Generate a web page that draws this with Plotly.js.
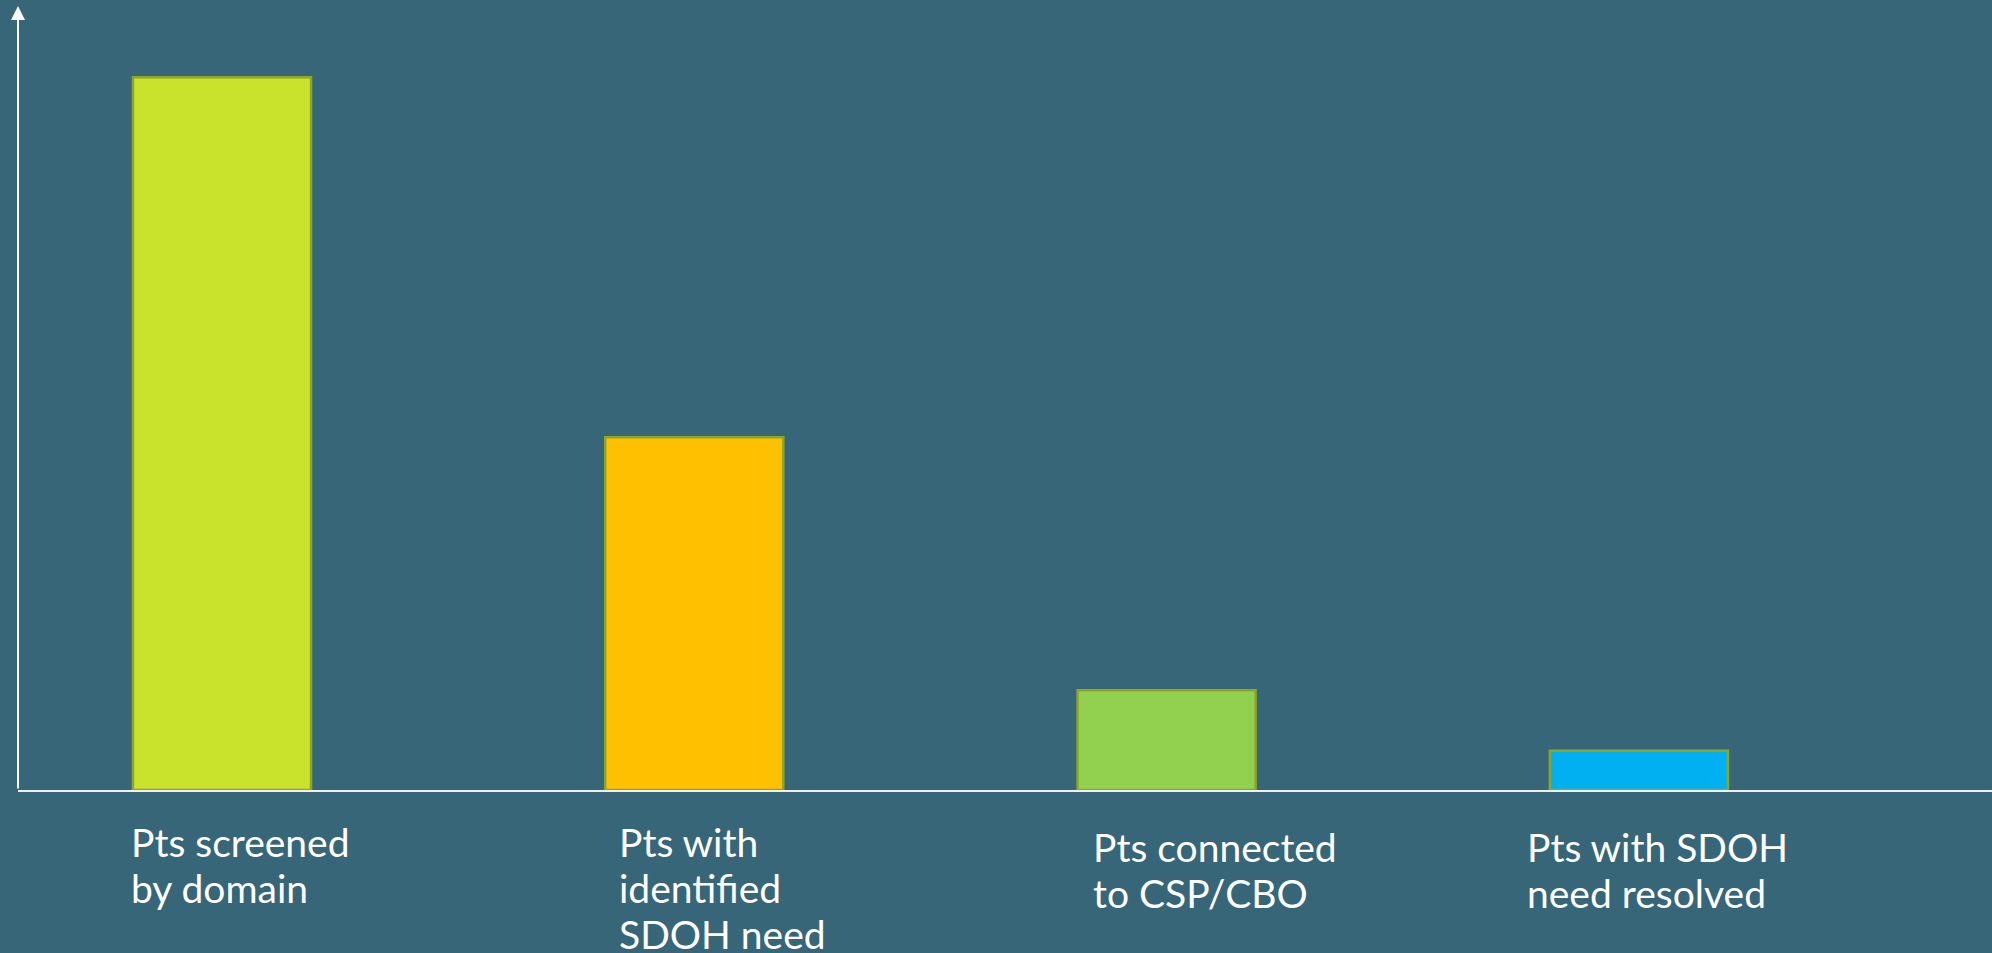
<!DOCTYPE html>
<html>
<head>
<meta charset="utf-8">
<script src="https://cdn.plot.ly/plotly-3.0.1.min.js"></script>
<style>
  html, body { margin: 0; padding: 0; background: #376678; }
  #chart { width: 1992px; height: 953px; }
</style>
</head>
<body>
<div id="chart"></div>
<script>
// ---- data ----
const categories = ["Pts screened by domain", "Pts with identified SDOH need", "Pts connected to CSP/CBO", "Pts with SDOH need resolved"];
const values = [1000, 495, 140, 55];
const labelLines = [
  ["Pts screened", "by domain"],
  ["Pts with", "identified", "SDOH need"],
  ["Pts connected", "to CSP/CBO"],
  ["Pts with SDOH", "need resolved"]
];

// ---- styles ----
const barColors = ["#C9E22B", "#FFC000", "#92D050", "#00B0F0"];
const outline = "#8FA52A";
const bg = "#376678";

const W = 1992, H = 953;
const M = { l: 18, r: 0, t: 6, b: 163 };
const plotW = W - M.l - M.r, plotH = H - M.t - M.b;
const px2paperX = p => (p - M.l) / plotW;
const px2paperY = p => (H - M.b - p) / plotH;

// label placement (pixels): left edge, centre of first line, line step
const labelLeft = [129, 617, 1091, 1525];
const labelFirst = [842, 842, 847, 847];
const lineStep = 46;

const annotations = [];
labelLines.forEach((lines, i) => {
  lines.forEach((t, j) => {
    annotations.push({
      text: t, xref: 'paper', yref: 'paper',
      x: px2paperX(labelLeft[i]), y: px2paperY(labelFirst[i] + j * lineStep),
      xanchor: 'left', yanchor: 'middle', align: 'left', showarrow: false,
      font: { family: 'Lato, sans-serif', size: 39, color: '#ffffff' }
    });
  });
});
// y-axis arrow
annotations.push({
  text: '', xref: 'paper', yref: 'paper', x: 0, y: 1,
  ax: 0, ay: plotH, axref: 'pixel', ayref: 'pixel',
  showarrow: true, arrowhead: 2, arrowsize: 1.4, arrowwidth: 2,
  arrowcolor: '#ffffff', standoff: 0, startstandoff: 0
});

const trace = {
  type: 'bar', x: categories, y: values,
  width: 0.377,
  marker: { color: barColors, line: { color: outline, width: 2.5 } },
  hoverinfo: 'none'
};

const spacing = 472.3, firstCenter = 222;
const layout = {
  width: W, height: H, margin: M,
  paper_bgcolor: bg, plot_bgcolor: bg,
  showlegend: false,
  xaxis: {
    type: 'category',
    range: [(M.l - firstCenter) / spacing, (W - M.r - firstCenter) / spacing],
    showticklabels: false, ticks: '', showgrid: false, zeroline: false,
    showline: true, linecolor: '#f0f0f0', linewidth: 2, layer: 'below traces', fixedrange: true
  },
  yaxis: {
    range: [0, 1100], showticklabels: false, ticks: '', showgrid: false,
    zeroline: false, showline: false, fixedrange: true
  },
  annotations: annotations
};

Plotly.newPlot('chart', [trace], layout, { staticPlot: true, displayModeBar: false });
</script>
</body>
</html>
